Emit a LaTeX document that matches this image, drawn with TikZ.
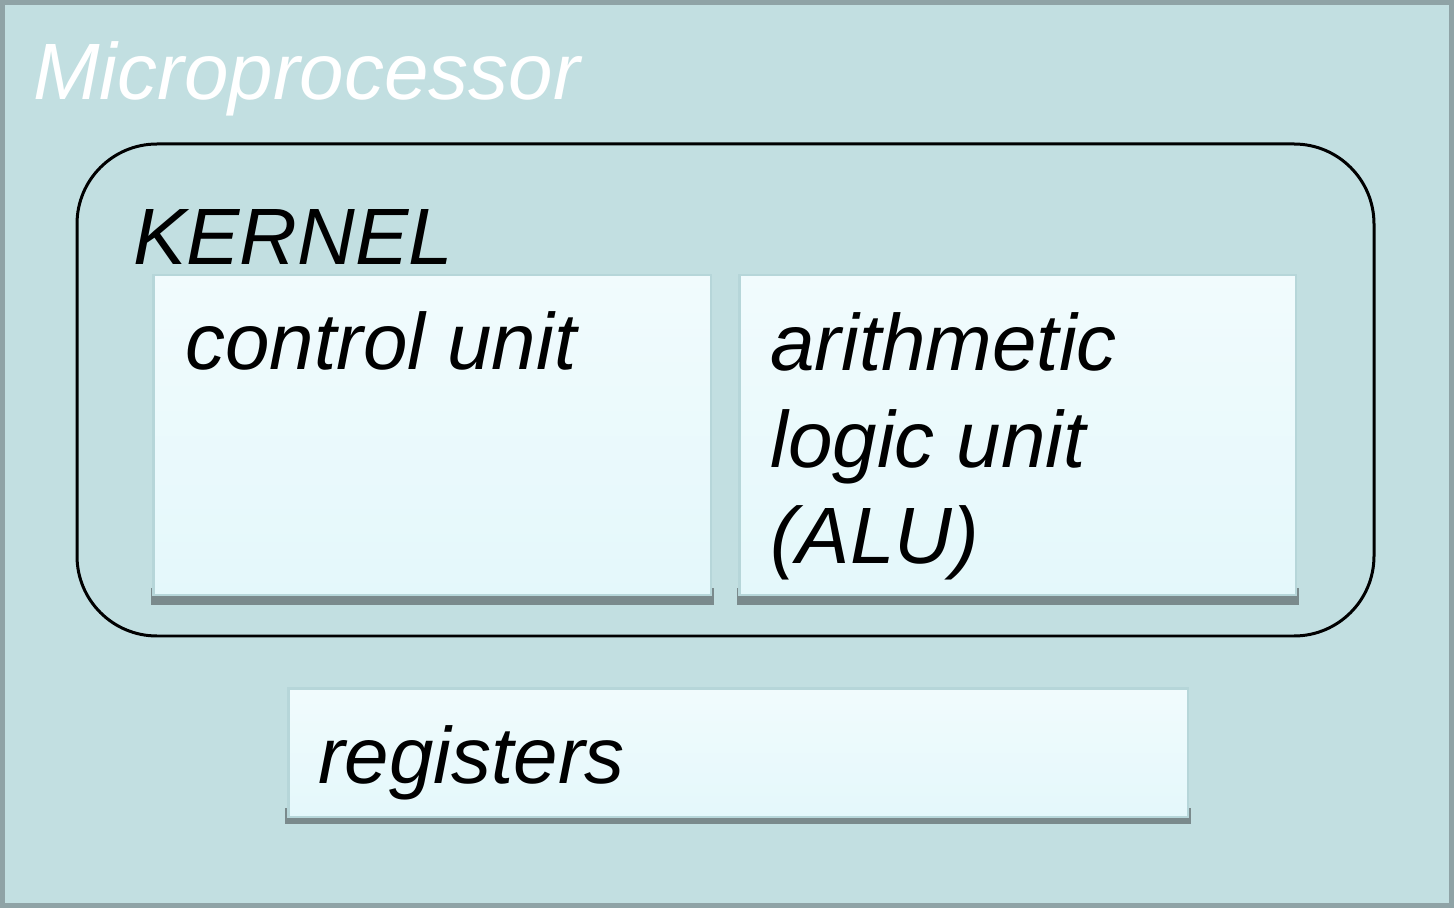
\documentclass[tikz,border=0pt]{standalone}
\usepackage{fontspec}
\setmainfont{Liberation Sans}
\usetikzlibrary{calc}

\definecolor{cpubg}{HTML}{C2DFE1}
\definecolor{cpuframe}{HTML}{8FA3A6}
\definecolor{unittop}{HTML}{F1FBFD}
\definecolor{unitbot}{HTML}{E4F8FB}
\definecolor{unitedge}{HTML}{B6D6D9}
\definecolor{unitshadow}{HTML}{7A8A8C}

\begin{document}
\begin{tikzpicture}[x=0.02cm,y=-0.02cm]
    % pixel grid of the original: 1454 x 908, y grows downwards

    \tikzset{
      frame/.style={fill=cpubg, draw=cpuframe, line width=0.1cm},
      kernel/.style={draw=black, line width=0.06cm, rounded corners=1.6cm},
      unit/.style={anchor=north west, inner sep=0pt, draw=unitedge, line width=0.05cm,
        top color=unittop, bottom color=unitbot},
      shade/.style={fill=unitshadow},
      label/.style={font=\fontsize{45.5}{55.2}\selectfont\itshape, inner sep=0pt,
        anchor=base west, align=left}
    }

    \useasboundingbox (0,0) rectangle (1454,908);

    % --- the chip
    \draw[frame] (2.5,2.5) rectangle (1451.5,905.5);
    \node[label, text=white] (cpu) at (33,100) {Microprocessor};

    % --- kernel with its two units
    \draw[kernel] (77,144) rectangle (1374,636);
    \node[label] (kern) at (133,265) {KERNEL};

    \fill[shade] (151,588) rectangle (714,605);
    \node[unit, minimum width=11.16cm, minimum height=6.4cm] (cu) at (152,274) {};
    \node[label] (cutext) at ($(cu.north west)+(33,96)$) {control unit};

    \fill[shade] (737,588) rectangle (1299,605);
    \node[unit, minimum width=11.14cm, minimum height=6.4cm] (alu) at (738,274) {};
    % base of a multi-line node sits on its last line
    \node[label] (alutext) at ($(alu.north west)+(32,290)$)
      {arithmetic\\logic unit\\(ALU)};

    % --- registers below the kernel
    \fill[shade] (285,808) rectangle (1191,824);
    \node[unit, minimum width=18.0cm, minimum height=2.58cm] (reg) at (287,687) {};
    \node[label] (regtext) at ($(reg.north west)+(31,96)$) {registers};
  \end{tikzpicture}
\end{document}
